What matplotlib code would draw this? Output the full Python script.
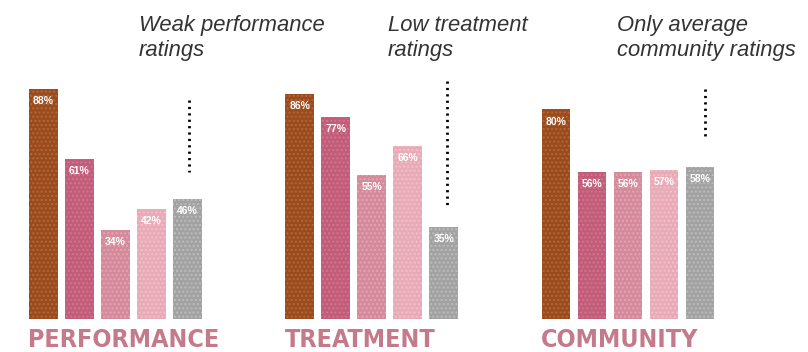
import numpy as np
from matplotlib import pyplot as plt

grupos = ['PERFORMANCE', 'TREATMENT', 'COMMUNITY']
perf = [88, 61, 34, 42, 46]
trat = [86, 77, 55, 66, 35]
comu = [80, 56, 56, 57, 58]
notas = ['Weak performance\nratings', 'Low treatment\nratings', 'Only average\ncommunity ratings']
# inicio e fim da linha pontilhada de cada grupo (em %)
pontilhado = [(83.5, 56), (91, 43.5), (88, 70)]
desloc_nota = [2.65, 2.45, 1.69]

cores = ['#9a4a1d', '#c25c79', '#d48a9a', '#e8aab7', '#a2a2a2']
cores_hatch = ['#b06a38', '#cf7690', '#e2a6b2', '#f0c2cb', '#bdbdbd']

fig = plt.figure(figsize=(8.08, 3.52), dpi=100)
ax = fig.add_axes([0, 33/352, 1, 319/352])
ax.set_xlim(-1.208, 21.24)
ax.set_ylim(0, 121.8)
ax.axis('off')

passo = 7.12
for g, valores in enumerate([perf, trat, comu]):
    xs = g * passo + np.arange(len(valores))
    for x, v, c, ch in zip(xs, valores, cores, cores_hatch):
        ax.bar(x, v, width=0.8, color=c, edgecolor=ch, linewidth=0, hatch='....')
        ax.text(x, v - 4.6, f'{v}%', color='white', fontsize=7.5, fontweight='bold',
                ha='center', va='center', family='Liberation Sans')
    ax.text(xs[0] - 0.42, -3.3, grupos[g], color='#c47a8a', fontsize=18,
            fontweight='bold', fontstretch='condensed', ha='left', va='top', family='DejaVu Sans')
    y0, y1 = pontilhado[g]
    ax.plot([xs[-1] + 0.05 + 0.05 * g] * 2, [y0, y1], color='black', lw=2, ls=(0, (0.8, 1.5)))
    ax.text(xs[0] + desloc_nota[g], 121.8 - 5.6, notas[g], fontsize=15.8, style='italic',
            color='#333333', ha='left', va='top', family='Liberation Sans', linespacing=1.3)

fig.savefig('out.png')
